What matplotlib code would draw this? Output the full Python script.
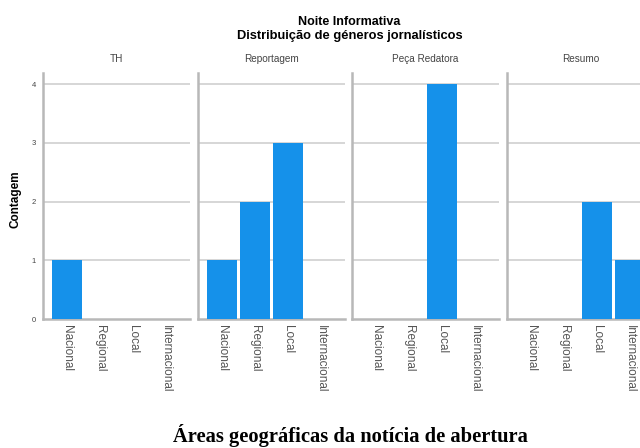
import matplotlib
matplotlib.use("Agg")
import matplotlib.pyplot as plt

categories = ["Nacional", "Regional", "Local", "Internacional"]
panels = ["TH", "Reportagem", "Peça Redatora", "Resumo"]
counts_th = [1, 0, 0, 0]
counts_reportagem = [1, 2, 3, 0]
counts_peca = [0, 0, 4, 0]
counts_resumo = [0, 0, 2, 1]
series = [counts_th, counts_reportagem, counts_peca, counts_resumo]
yticks = [0, 1, 2, 3, 4]

plt.rcParams['font.family'] = ['Liberation Sans', 'DejaVu Sans']
W, H = 640, 448
fig = plt.figure(figsize=(W/100, H/100), dpi=100)
fig.patch.set_facecolor('white')

lefts = [43, 198, 352, 507]
pw = 147
bottom_px, top_px = 319, 73
bar_color = '#1591EA'

for i, (name, vals) in enumerate(zip(panels, series)):
    ax = fig.add_axes([lefts[i]/W, 1 - bottom_px/H, pw/W, (bottom_px - top_px)/H])
    x = list(range(len(categories)))
    ax.bar(x, vals, width=0.9, color=bar_color, zorder=3)
    ax.set_xlim(-0.73, 3.73)
    ax.set_ylim(0, 4.19)
    ax.set_yticks(yticks)
    for yv in yticks[1:]:
        ax.axhline(yv, color='#d6d6d6', lw=1.4, zorder=1)
    for s in ['top', 'right']:
        ax.spines[s].set_visible(False)
    ax.spines['left'].set_color('#b8b8b8')
    ax.spines['left'].set_linewidth(1.8)
    ax.spines['bottom'].set_color('#b8b8b8')
    ax.spines['bottom'].set_linewidth(1.8)
    ax.tick_params(length=0)
    ax.set_xticks(x)
    ax.set_xticklabels(categories, rotation=-90, fontsize=8.5, color='#555555',
                       va='top', ha='center')
    ax.tick_params(axis='x', pad=4)
    if i == 0:
        ax.set_yticklabels([str(v) for v in yticks], fontsize=5.5, color='#444444')
        ax.tick_params(axis='y', pad=5)
    else:
        ax.set_yticklabels([])
    ax.set_title(name, fontsize=7.2, color='#444444', pad=8)

fig.text(16/W, 1 - 199/H, "Contagem", ha='center', va='center', rotation=90,
         fontsize=8.5, fontweight='bold')
fig.text(349/W, 1 - 22/H, "Noite Informativa", ha='center', va='center',
         fontsize=9, fontweight='bold')
fig.text(350/W, 1 - 36/H, "Distribuição de géneros jornalísticos", ha='center',
         va='center', fontsize=9.3, fontweight='bold')
fig.text(350/W, 1 - 442/H, "Áreas geográficas da notícia de abertura", ha='center',
         va='baseline', fontsize=14.8, fontweight='bold', family='Liberation Serif')

fig.savefig("out.png", dpi=100)
